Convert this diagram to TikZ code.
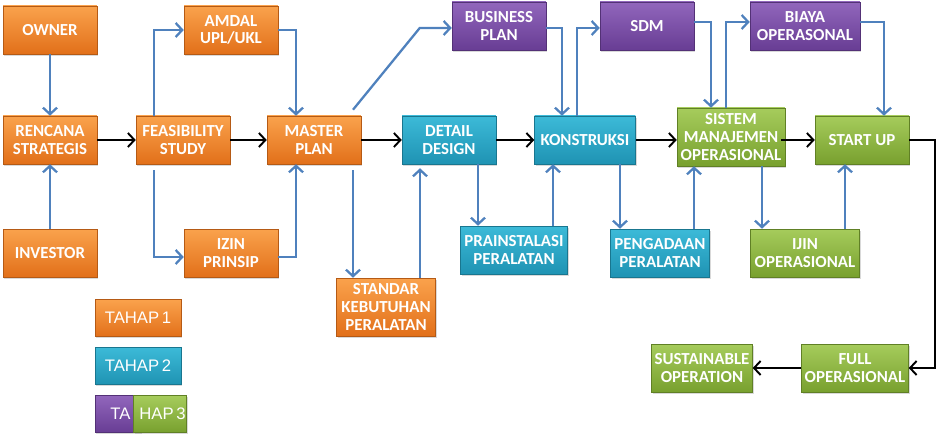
\documentclass[tikz,border=0pt]{standalone}
\usepackage{fontspec}
\setmainfont{Carlito}[BoldFont={Carlito Bold}]
\newfontfamily\legendfont{Liberation Sans}
\usetikzlibrary{arrows.meta,calc,shadows}

\definecolor{orangetop}{HTML}{FAA24C}
\definecolor{orangebot}{HTML}{E2701A}
\definecolor{bluetop}{HTML}{3CBAD8}
\definecolor{bluebot}{HTML}{1F93B3}
\definecolor{purpletop}{HTML}{9166BC}
\definecolor{purplebot}{HTML}{683D94}
\definecolor{greentop}{HTML}{A6CC5C}
\definecolor{greenbot}{HTML}{78A02E}
\definecolor{arrowblue}{HTML}{4F81BD}

\tikzset{
    stage/.style={minimum width=1.88cm, minimum height=0.96cm, inner sep=1pt,
        align=center, text=white, font=\bfseries\fontsize{9.6}{10}\selectfont,
        drop shadow={opacity=0.3, shadow xshift=0.7pt, shadow yshift=-0.9pt}},
    tahapone/.style={top color=orangetop, bottom color=orangebot, draw=orangebot!80!black, line width=0.3pt},
    tahaptwo/.style={top color=bluetop, bottom color=bluebot, draw=bluebot!80!black, line width=0.3pt},
    tahappurple/.style={top color=purpletop, bottom color=purplebot, draw=purplebot!80!black, line width=0.3pt},
    tahapgreen/.style={top color=greentop, bottom color=greenbot, draw=greenbot!80!black, line width=0.3pt},
    legendbox/.style={minimum width=1.72cm, minimum height=0.74cm, inner sep=0pt,
        text=white, font=\legendfont\fontsize{9.5}{10}\selectfont,
        drop shadow={opacity=0.3, shadow xshift=0.7pt, shadow yshift=-0.9pt}},
    flow/.style={draw=arrowblue, line width=1.3pt, -{Straight Barb[length=1.3mm,width=2.8mm]}},
    main/.style={draw=black, line width=1.1pt, -{Straight Barb[length=1.3mm,width=2.8mm]}},
}

\begin{document}
\begin{tikzpicture}[x=0.02cm, y=-0.02cm]
    \useasboundingbox (0,0) rectangle (940,438);

    % tahap 1
    \node[stage, tahapone] (owner) at (50,30) {OWNER};
    \node[stage, tahapone] (rencana) at (50,140) {RENCANA\\STRATEGIS};
    \node[stage, tahapone] (investor) at (50,253) {INVESTOR};
    \node[stage, tahapone] (feas) at (183,140) {FEASIBILITY\\STUDY};
    \node[stage, tahapone] (amdal) at (231,30) {AMDAL\\UPL/UKL};
    \node[stage, tahapone] (izin) at (231,253) {IZIN\\PRINSIP};
    \node[stage, tahapone] (master) at (314,140) {MASTER\\PLAN};
    \node[stage, tahapone, minimum width=1.98cm, minimum height=1.16cm] (standar) at (386,307) {STANDAR\\KEBUTUHAN\\PERALATAN};

    % tahap 2
    \node[stage, tahaptwo] (detail) at (449,140) {DETAIL\\DESIGN};
    \node[stage, tahaptwo, minimum width=2.14cm] (prainst) at (514,250) {PRAINSTALASI\\PERALATAN};
    \node[stage, tahaptwo, minimum width=2.02cm] (konstruksi) at (585,140) {KONSTRUKSI};
    \node[stage, tahaptwo, minimum width=1.98cm] (pengadaan) at (660,253) {PENGADAAN\\PERALATAN};

    % tahap 3
    \node[stage, tahappurple] (business) at (499,26) {BUSINESS\\PLAN};
    \node[stage, tahappurple] (sdm) at (647,26) {SDM};
    \node[stage, tahappurple, minimum width=2.2cm] (biaya) at (805,26) {BIAYA\\OPERASONAL};
    \node[stage, tahapgreen, minimum width=2.16cm, minimum height=1.16cm] (sistem) at (731,137) {SISTEM\\MANAJEMEN\\OPERASIONAL};
    \node[stage, tahapgreen] (startup) at (862,140) {START UP};
    \node[stage, tahapgreen, minimum width=2.18cm] (ijin) at (805,253) {IJIN\\OPERASIONAL};
    \node[stage, tahapgreen, minimum width=2.14cm] (full) at (855,368) {FULL\\OPERASIONAL};
    \node[stage, tahapgreen, minimum width=2.02cm] (sustain) at (702,368) {SUSTAINABLE\\OPERATION};

    % legend
    \node[legendbox, tahapone] (legone) at (138,318) {TAHAP\hspace{1.5pt}1};
    \node[legendbox, tahaptwo] (legtwo) at (138,366) {TAHAP\hspace{1.5pt}2};
    \node[legendbox, tahappurple, minimum width=0.92cm] (legpurple) at (118,414) {};
    \node[legendbox, tahapgreen, minimum width=1.06cm] (leggreen) at (160,414) {};
    \node[text=white, font=\legendfont\fontsize{9.5}{10}\selectfont] (legthree) at (148,414) {TA\hspace{5pt}HAP\hspace{1.5pt}3};

    % connectors
    \draw[flow] (owner) -- (rencana);
    \draw[flow] (investor) -- (rencana);
    \draw[main] (rencana) -- (feas);
    \draw[main] (feas) -- (master);
    \draw[flow] ($(feas.north)+(-29,0)$) |- (amdal.west);
    \draw[flow] (amdal.east) -| ($(master.north)+(-18,0)$);
    \draw[flow] ($(feas.south)+(-29,6)$) |- ($(izin.west)+(0,4)$);
    \draw[flow] ($(izin.east)+(0,4)$) -| ($(master.south)+(-18,0)$);
    \draw[main] (master) -- (detail);
    \draw[flow] ($(master.north)+(39,-6)$) -- ($(business.west)+(-32,2)$) -- ($(business.west)+(0,2)$);
    \draw[flow] ($(business.east)+(0,2)$) -| ($(konstruksi.north)+(-23,0)$);
    \draw[flow] ($(master.south)+(39,6)$) -- ($(standar.north)+(-33,0)$);
    \draw[flow] ($(standar.north)+(34,0)$) -- ($(detail.south)+(-29,4)$);
    \draw[main] (detail) -- (konstruksi);
    \draw[flow] ($(detail.south)+(29,0)$) -- ($(prainst.north)+(-36,0)$);
    \draw[flow] ($(prainst.north)+(39,0)$) -- ($(konstruksi.south)+(-32,0)$);
    \draw[flow] ($(konstruksi.north)+(-8,0)$) |- ($(sdm.west)+(0,2)$);
    \draw[main] (konstruksi.east) -- (konstruksi.east -| sistem.west);
    \draw[flow] ($(konstruksi.south)+(35,0)$) -- ($(pengadaan.north)+(-40,0)$);
    \draw[flow] ($(pengadaan.north)+(34,0)$) -- ($(sistem.south)+(-37,0)$);
    \draw[flow] ($(sdm.east)+(0,-4)$) -| ($(sistem.north)+(-20,0)$);
    \draw[flow] ($(sistem.north)+(-5,0)$) |- ($(biaya.west)+(0,-4)$);
    \draw[main] ($(sistem.east)+(-4,3)$) -- (startup.west);
    \draw[flow] ($(biaya.east)+(0,-4)$) -| ($(startup.north)+(22,0)$);
    \draw[flow] ($(sistem.south)+(31,0)$) -- ($(ijin.north)+(-43,0)$);
    \draw[flow] ($(ijin.north)+(40,0)$) -- ($(startup.south)+(-17,0)$);
    \draw[main] (startup.east) -- ++(26,0) |- (full.east);
    \draw[main] (full) -- (sustain);
\end{tikzpicture}
\end{document}
